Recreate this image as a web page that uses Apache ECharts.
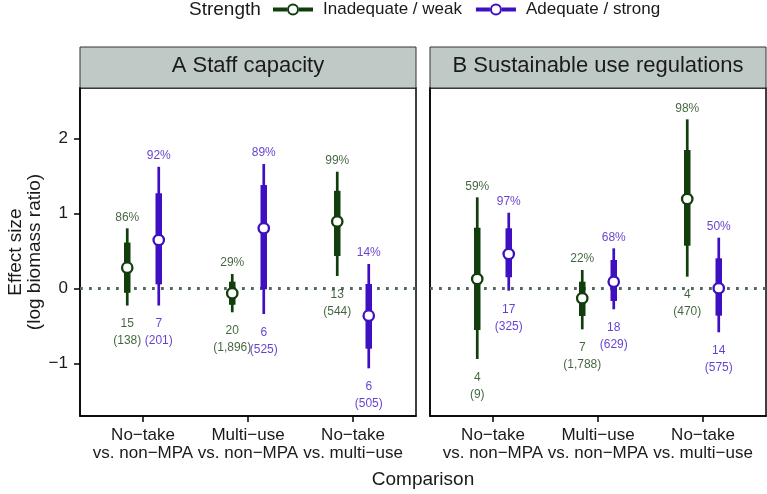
<!DOCTYPE html>
<html>
<head>
<meta charset="utf-8">
<script src="https://cdn.jsdelivr.net/npm/echarts@6/dist/echarts.min.js"></script>
<style>
html,body{margin:0;padding:0;background:#fff;}
#chart{width:767px;height:494px;}
</style>
</head>
<body>
<div id="chart"></div>
<script>
// ---------- data ----------
const categories = ['No\u2212take\nvs. non\u2212MPA', 'Multi\u2212use\nvs. non\u2212MPA', 'No\u2212take\nvs. multi\u2212use'];
const panels = ['A Staff capacity', 'B Sustainable use regulations'];
const strengths = ['Inadequate / weak', 'Adequate / strong'];
const yTicks = [-1, 0, 1, 2];

// rows: [low 95%, low 50%, estimate, high 50%, high 95%]
const staffWeak   = [[-0.23, -0.06, 0.275, 0.61, 0.80], [-0.32, -0.22, -0.067, 0.088, 0.19], [0.164, 0.43, 0.89, 1.30, 1.555]];
const staffStrong = [[-0.23, 0.053, 0.644, 1.267, 1.62], [-0.343, -0.013, 0.80, 1.377, 1.657], [-1.067, -0.805, -0.365, 0.057, 0.324]];
const regWeak     = [[-0.943, -0.556, 0.124, 0.808, 1.213], [-0.547, -0.369, -0.133, 0.088, 0.244], [0.155, 0.568, 1.191, 1.844, 2.253]];
const regStrong   = [[-0.032, 0.147, 0.457, 0.80, 1.008], [-0.28, -0.169, 0.088, 0.377, 0.533], [-0.587, -0.365, 0.0, 0.40, 0.675]];

const staffWeakPct = ['86%', '29%', '99%'];
const staffStrongPct = ['92%', '89%', '14%'];
const regWeakPct = ['59%', '22%', '98%'];
const regStrongPct = ['97%', '68%', '50%'];

const staffWeakN = [15, 20, 13],  staffWeakObs = [138, 1896, 544];
const staffStrongN = [7, 6, 6],   staffStrongObs = [201, 525, 505];
const regWeakN = [4, 7, 4],       regWeakObs = [9, 1788, 470];
const regStrongN = [17, 18, 14],  regStrongObs = [325, 629, 575];

// ---------- style ----------
const GREEN = '#123d0c';
const PURPLE = '#3f0fc2';
const colors = [GREEN, PURPLE];
const FONT = 'Liberation Sans, Arial, sans-serif';
const dodge = [-0.15, 0.15];

const seriesData = [
  [{rows: staffWeak, pct: staffWeakPct, n: staffWeakN, obs: staffWeakObs},
   {rows: staffStrong, pct: staffStrongPct, n: staffStrongN, obs: staffStrongObs}],
  [{rows: regWeak, pct: regWeakPct, n: regWeakN, obs: regWeakObs},
   {rows: regStrong, pct: regStrongPct, n: regStrongN, obs: regStrongObs}]
];

function renderItem(params, api) {
  const x = api.value(0);
  const a95 = api.coord([x, api.value(1)]);
  const b95 = api.coord([x, api.value(5)]);
  const a50 = api.coord([x, api.value(2)]);
  const b50 = api.coord([x, api.value(4)]);
  const m = api.coord([x, api.value(3)]);
  const c = api.visual('color');
  return {
    type: 'group',
    children: [
      {type: 'line', shape: {x1: a95[0], y1: a95[1], x2: b95[0], y2: b95[1]}, style: {stroke: c, lineWidth: 2.7}},
      {type: 'line', shape: {x1: a50[0], y1: a50[1], x2: b50[0], y2: b50[1]}, style: {stroke: c, lineWidth: 6.5}},
      {type: 'circle', shape: {cx: m[0], cy: m[1], r: 5.2}, style: {fill: '#fff', stroke: c, lineWidth: 2.3}}
    ]
  };
}

const series = [];
for (let p = 0; p < 2; p++) {
  for (let s = 0; s < 2; s++) {
    const d = seriesData[p][s];
    const rows = d.rows.map((r, i) => [i + 1 + dodge[s]].concat(r));
    const ser = {
      type: 'custom',
      name: strengths[s],
      xAxisIndex: p, yAxisIndex: p,
      renderItem: renderItem,
      encode: {x: 0, y: [1, 5]},
      itemStyle: {color: colors[s]},
      data: rows,
      silent: true,
      z: 3
    };
    if (s === 0) {
      ser.markLine = {
        silent: true, symbol: 'none', animation: false,
        label: {show: false},
        lineStyle: {color: '#4f6a60', width: 2.8, type: [2.8, 6.2]},
        data: [{yAxis: 0}],
        z: 1
      };
    }
    series.push(ser);
    // percentage labels (above upper end)
    series.push({
      type: 'scatter', name: 'pct' + p + s,
      xAxisIndex: p, yAxisIndex: p,
      symbolSize: 0, silent: true,
      data: d.rows.map((r, i) => [i + 1 + dodge[s], r[4], d.pct[i]]),
      label: {show: true, position: 'top', distance: 5, formatter: (q) => q.data[2],
        color: colors[s], fontSize: 12, fontFamily: FONT}
    });
    // sample size labels (below lower end)
    series.push({
      type: 'scatter', name: 'n' + p + s,
      xAxisIndex: p, yAxisIndex: p,
      symbolSize: 0, silent: true,
      data: d.rows.map((r, i) => [i + 1 + dodge[s], r[0], d.n[i] + '\n(' + d.obs[i].toLocaleString('en-US') + ')']),
      label: {show: true, position: 'bottom', distance: 10, formatter: (q) => q.data[2],
        color: colors[s], fontSize: 12, lineHeight: 17, fontFamily: FONT}
    });
  }
}

const PANEL_TOP = 88, PANEL_H = 328, PANEL_W = 336;
const lefts = [80, 430];

const grids = [], xAxes = [], yAxes = [];
for (let p = 0; p < 2; p++) {
  grids.push({left: lefts[p], top: PANEL_TOP, width: PANEL_W, height: PANEL_H,
    show: true, borderColor: '#000', borderWidth: 1.5, backgroundColor: '#fff'});
  xAxes.push({
    type: 'value', gridIndex: p, min: 0.4, max: 3.6,
    axisLine: {show: true, onZero: false, lineStyle: {color: '#000', width: 1.5}},
    axisTick: {show: true, customValues: [1, 2, 3], length: 6, lineStyle: {color: '#000', width: 1.5}},
    axisLabel: {show: true, customValues: [1, 2, 3], formatter: (v) => categories[Math.round(v) - 1],
      color: '#1a1a1a', fontSize: 17, lineHeight: 18, margin: 10, fontFamily: FONT},
    splitLine: {show: false}
  });
  yAxes.push({
    type: 'value', gridIndex: p, min: -1.703, max: 2.671,
    axisLine: {show: true, onZero: false, lineStyle: {color: '#000', width: 1.5}},
    axisTick: {show: p === 0, customValues: yTicks, length: 6, lineStyle: {color: '#000', width: 1.5}},
    axisLabel: {show: p === 0, customValues: yTicks, formatter: (v) => v < 0 ? '\u2212' + Math.abs(v) : String(v),
      color: '#1a1a1a', fontSize: 17, margin: 12, fontFamily: FONT},
    splitLine: {show: false},
    name: p === 0 ? 'Effect size\n(log biomass ratio)' : '',
    nameLocation: 'middle', nameGap: 35,
    nameTextStyle: {color: '#1a1a1a', fontSize: 19, lineHeight: 19, fontFamily: FONT}
  });
}
// strip grids
for (let p = 0; p < 2; p++) {
  grids.push({left: lefts[p], top: 47, width: PANEL_W, height: 41,
    show: true, borderColor: '#333', borderWidth: 1, backgroundColor: '#bfcac6'});
}

const titles = [
  {text: 'Strength', left: 189, top: 0, padding: 0,
    textStyle: {fontSize: 19, fontWeight: 'normal', color: '#1a1a1a', fontFamily: FONT}},
  {text: panels[0], left: lefts[0] + PANEL_W / 2, textAlign: 'center', top: 55, padding: 0,
    textStyle: {fontSize: 22, fontWeight: 'normal', color: '#1a1a1a', fontFamily: FONT}},
  {text: panels[1], left: lefts[1] + PANEL_W / 2, textAlign: 'center', top: 55, padding: 0,
    textStyle: {fontSize: 22, fontWeight: 'normal', color: '#1a1a1a', fontFamily: FONT}},
  {text: 'Comparison', left: 423, textAlign: 'center', top: 470, padding: 0,
    textStyle: {fontSize: 19, fontWeight: 'normal', color: '#1a1a1a', fontFamily: FONT}}
];

const keyIcon = 'path://M0,4L14,4L14,8L0,8Z M26,4L40,4L40,8L26,8Z M20,0A6,6 0 1 1 20,12A6,6 0 1 1 20,0Z M20,2A4,4 0 1 0 20,10A4,4 0 1 0 20,2Z';

const option = {
  animation: false,
  backgroundColor: '#fff',
  title: titles,
  legend: {
    data: strengths.map((s) => ({name: s, icon: keyIcon})),
    left: 273, top: 1, padding: 0,
    itemWidth: 40, itemHeight: 12, itemGap: 14,
    selectedMode: false,
    textStyle: {fontSize: 17, color: '#1a1a1a', fontFamily: FONT, padding: [0, 0, 0, 5]}
  },
  grid: grids,
  xAxis: xAxes,
  yAxis: yAxes,
  series: series
};

const chart = echarts.init(document.getElementById('chart'), null, {renderer: 'canvas'});
chart.setOption(option);
</script>
</body>
</html>
